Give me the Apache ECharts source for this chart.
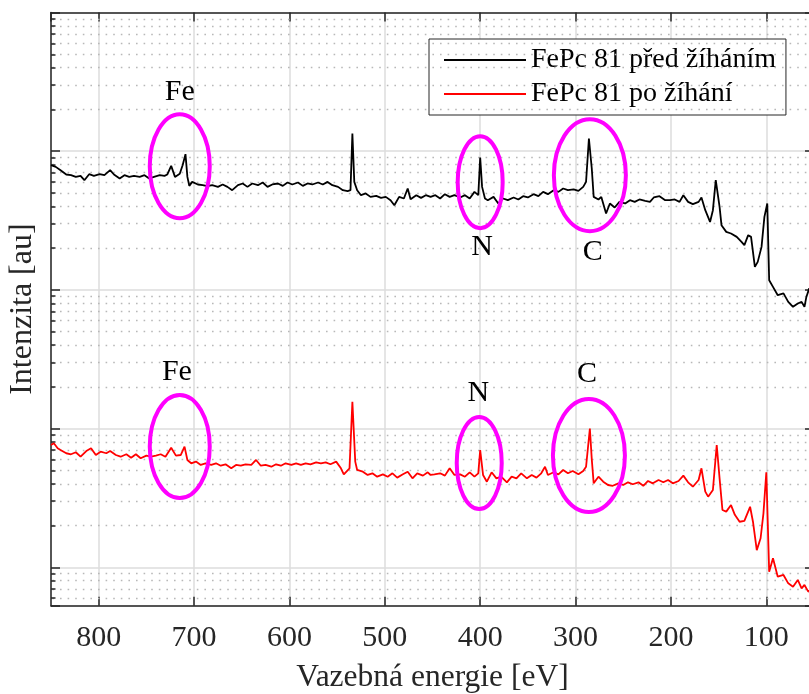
<!DOCTYPE html>
<html><head><meta charset="utf-8">
<script src="https://cdn.jsdelivr.net/npm/echarts@6/dist/echarts.min.js"></script>
<style>html,body{margin:0;padding:0;background:#fff}#c{width:809px;height:694px}</style>
</head><body><div id="c"></div>
<script>
// ---------- data ----------
const seriesNames = ['FePc 81 před žíháním', 'FePc 81 po žíhání'];

const blackEnergy = [
  850,845,840,834,829,824,819,815,810,805,
  799,794,788,784,778,773,768,763,757,752,
  747,742,736,731,728,724,720,715,712,709,
  707,705,702,696,691,686,681,675,670,665,
  660,654,649,644,639,633,628,623,618,612,
  607,602,597,591,586,581,576,570,565,560,
  555,549,544,539,536,534,532,529,525,520,
  515,509,504,499,494,490,485,480,476,473,
  467,462,457,452,447,442,437,432,427,421,
  416,411,406,402,400,398,395,392,386,381,
  376,371,365,360,355,350,344,339,334,329,
  323,318,313,308,302,297,292,289,286,283,
  281,276,273,268,264,259,254,248,243,238,
  233,227,222,218,212,206,201,196,191,187,
  182,177,171,168,164,159,156,153,149,147,
  142,137,131,126,123,119,116,112,109,105,
  102,99,97,93,88,82,77,72,67,63,
  60,58,55,50
];
const blackCounts = [
  7927,7708,7296,6793,6715,6527,6637,6180,6827,6637,
  6827,6715,7296,6793,6357,6715,6527,6637,6527,6715,
  6357,6527,6715,6637,6793,7835,6527,6880,7927,9514,
  6527,5622,6008,5754,5688,5594,5688,5530,5754,5530,
  5235,5688,5850,5530,5850,5688,5948,5530,5754,5850,
  5622,5948,5754,5948,5622,5850,5754,5948,5754,6008,
  5688,5530,5235,5149,5235,13414,6008,5235,4818,4957,
  4684,4763,4607,4684,4434,4081,4684,4561,5385,4509,
  4818,4607,4818,4684,4818,4561,4899,4684,4818,4637,
  4818,4561,5089,4818,9006,5530,4561,4434,4684,4198,
  4561,4434,4637,4486,4739,4637,4899,4739,5089,4899,
  5235,5089,5385,5235,5297,5174,5530,6008,12347,7500,
  4684,4486,4684,3556,4198,3927,4311,4198,4434,4311,
  4486,4384,4311,4637,4739,4434,4434,4486,4311,4818,
  4311,4150,4311,4637,3755,3090,3755,6180,3967,2927,
  2620,2551,2411,2220,2101,2480,2411,1465,1592,2042,
  3360,4198,1174,1052,916,943,819,755,798,819,
  755,890,1025,916
];

const redEnergy = [
  850,847,843,840,834,829,824,819,813,808,
  803,798,792,788,782,777,771,766,761,756,
  750,745,740,735,730,724,719,714,710,707,
  703,698,693,688,682,677,672,667,661,656,
  651,646,640,635,630,625,619,614,609,604,
  598,593,588,583,578,572,567,562,557,551,
  546,543,537,534,531,529,523,518,513,508,
  502,497,492,487,481,476,471,466,460,455,
  452,448,442,437,432,427,421,416,411,406,
  402,400,397,393,388,383,378,372,367,362,
  357,351,346,341,336,332,329,323,318,313,
  308,303,297,292,289,285,283,281,276,271,
  266,261,255,250,245,240,234,229,224,219,
  213,208,203,198,192,187,182,177,171,168,
  164,161,156,152,149,146,142,137,133,128,
  123,117,114,110,106,103,100,97,93,88,
  82,77,72,67,63,60,56,50
];
const redCounts = [
  76.2,78.4,72.1,70.1,66.4,65.3,67.5,62.7,68.9,72.1,
  64.5,68.2,66.4,68.9,64.5,62.7,65.3,61.7,65.3,61.1,
  63.8,62.7,63.8,65.3,62.7,72.8,63.8,64.5,74.1,59.4,
  56.2,57.8,54.7,56.2,54.7,56.2,54.0,55.3,51.7,54.7,
  54.0,55.3,54.7,59.4,54.0,54.7,53.1,55.3,54.0,56.2,
  54.7,56.2,54.7,56.2,55.3,57.1,56.2,57.1,55.3,57.8,
  51.7,46.8,51.7,156,57.8,50.3,48.9,46.3,47.6,45.0,
  46.8,45.0,47.6,44.3,46.8,48.9,43.8,47.6,45.8,48.4,
  46.3,46.8,47.6,45.8,51.7,46.3,46.8,45.0,48.4,45.0,
  47.6,70.1,46.3,41.4,48.4,43.8,45.0,41.0,45.0,43.8,
  47.6,43.8,46.3,44.3,47.6,53.1,46.3,48.4,46.8,50.3,
  47.6,49.5,46.8,49.5,53.1,100.2,60.0,40.3,45.0,41.4,
  39.2,38.7,40.3,39.2,41.0,39.7,41.0,38.7,41.9,40.3,
  42.6,41.0,42.6,40.3,41.9,45.8,41.0,38.1,42.6,51.7,
  35.1,32.3,36.1,76.2,43.8,25.9,25.2,28.1,23.9,21.3,
  21.6,27.3,21.3,13.3,16.2,24.5,48.4,9.3,11.6,8.56,
  8.80,7.66,7.24,8.10,7.05,7.46,6.67,7.1
];

// axis ranges
const xMin = 50, xMax = 850;
const yMin = 5.285, yMax = 100000;
const minorMantissas = [2,3,4,5,6,7,8,9];
const minorDecades = [1,10,100,1000,10000];

// annotations (element, location in data units)
const annotText = ['Fe','N','C','Fe','N','C'];
const annotTextEnergy = [715, 398, 282, 718, 402, 288];
const annotTextValue  = [26630, 2032, 1869, 256, 180.6, 247.6];
const ringEnergy = [715, 400, 285, 715, 401, 286];
const ringValue  = [7796, 5978, 6715, 74.3, 56.5, 64];

// ---------- chart ----------
const FONT = '"Liberation Serif", "Times New Roman", serif';
const AX = '#262626';
const ringSize = [[30,52],[22.5,46],[36,56],[30,51.5],[22.5,46],[36,56.5]];

const minorVals = [];
minorDecades.forEach(d => minorMantissas.forEach(m => {
  const v = m * d;
  if (v > yMin && v < yMax) minorVals.push(v);
}));

const chart = echarts.init(document.getElementById('c'), null, {renderer:'canvas'});

const axisLineStyle = {color: AX, width: 1.5};
const option = {
  animation: false,
  backgroundColor: '#ffffff',
  textStyle: {fontFamily: FONT},
  grid: {left: 51, right: -5, top: 12.5, bottom: 88.3, containLabel: false, outerBoundsMode: 'none'},
  legend: {
    data: seriesNames.map(n => ({name: n, icon: 'rect'})),
    orient: 'vertical', left: 429, top: 39,
    padding: [6, 10, 6, 15], itemGap: 4, itemWidth: 82, itemHeight: 2,
    backgroundColor: '#ffffff', borderColor: AX, borderWidth: 1,
    selectedMode: false,
    textStyle: {fontFamily: FONT, fontSize: 28, lineHeight: 30, color: '#000'}
  },
  xAxis: [{
    type: 'value', min: xMin, max: xMax, inverse: true, splitNumber: 8,
    position: 'bottom',
    axisLine: {show: true, onZero: false, lineStyle: axisLineStyle},
    axisTick: {show: true, inside: true, length: 9, lineStyle: axisLineStyle},
    axisLabel: {show: true, showMinLabel: false, showMaxLabel: false, margin: 17,
      color: AX, fontFamily: FONT, fontSize: 30, lineHeight: 30},
    splitLine: {show: true, lineStyle: {color: '#dcdcdc', width: 1.5}},
    name: 'Vazebná energie [eV]', nameLocation: 'middle', nameGap: 56,
    nameTextStyle: {color: AX, fontFamily: FONT, fontSize: 31.5, lineHeight: 31.5}
  }, {
    type: 'value', min: xMin, max: xMax, inverse: true, splitNumber: 8,
    position: 'top',
    axisLine: {show: true, onZero: false, lineStyle: axisLineStyle},
    axisTick: {show: true, inside: true, length: 9, lineStyle: axisLineStyle},
    axisLabel: {show: false}, splitLine: {show: false}
  }],
  yAxis: [{
    type: 'log', logBase: 10, min: yMin, max: yMax,
    axisLine: {show: true, onZero: false, lineStyle: axisLineStyle},
    axisTick: {show: true, inside: true, length: 9, lineStyle: axisLineStyle},
    axisLabel: {show: false},
    minorTick: {show: false}, minorSplitLine: {show: false},
    splitLine: {show: true, lineStyle: {color: '#dcdcdc', width: 1.5}},
    name: 'Intenzita [au]', nameLocation: 'middle', nameGap: 12.5,
    nameTextStyle: {color: AX, fontFamily: FONT, fontSize: 32, lineHeight: 32}
  }, {
    type: 'log', logBase: 10, min: yMin, max: yMax, position: 'right',
    axisLine: {show: true, onZero: false, lineStyle: axisLineStyle},
    axisTick: {show: true, inside: true, length: 9, lineStyle: axisLineStyle},
    axisLabel: {show: false}, splitLine: {show: false}, minorTick: {show: false}
  }],
  series: [
    {
      name: seriesNames[0], type: 'line', xAxisIndex: 0, yAxisIndex: 0,
      data: blackEnergy.map((e, i) => [e, blackCounts[i]]),
      symbol: 'none', showSymbol: false, z: 5,
      lineStyle: {color: '#000000', width: 1.8}, itemStyle: {color: '#000000'},
      emphasis: {disabled: true}
    },
    {
      name: seriesNames[1], type: 'line', xAxisIndex: 0, yAxisIndex: 0,
      data: redEnergy.map((e, i) => [e, redCounts[i]]),
      symbol: 'none', showSymbol: false, z: 5,
      lineStyle: {color: '#ff0000', width: 1.8}, itemStyle: {color: '#ff0000'},
      emphasis: {disabled: true}
    },
    {
      name: 'minorGrid', type: 'line', data: [], z: 1, silent: true,
      markLine: {
        silent: true, symbol: ['none', 'none'], animation: false,
        label: {show: false}, emphasis: {disabled: true},
        lineStyle: {color: '#b8b8b8', type: [1.6, 6], width: 1.4},
        data: minorVals.map(v => ({yAxis: v}))
      }
    },
    {
      name: 'minorTicks', type: 'line', data: [], z: 6, silent: true,
      markLine: {
        silent: true, symbol: ['none', 'none'], animation: false,
        label: {show: false}, emphasis: {disabled: true},
        lineStyle: {color: AX, type: 'solid', width: 1.5},
        data: minorVals.map(v => [{coord: [xMax, v]}, {coord: [xMax - 4.7, v]}])
      }
    }
  ]
};
chart.setOption(option);

const elems = [];
ringEnergy.forEach((e, i) => {
  const p = chart.convertToPixel({xAxisIndex: 0, yAxisIndex: 0}, [e, ringValue[i]]);
  elems.push({
    type: 'ellipse', silent: true, z: 20,
    shape: {cx: p[0], cy: p[1], rx: ringSize[i][0], ry: ringSize[i][1]},
    style: {fill: 'none', stroke: '#ff00ff', lineWidth: 4}
  });
});
annotTextEnergy.forEach((e, i) => {
  const p = chart.convertToPixel({xAxisIndex: 0, yAxisIndex: 0}, [e, annotTextValue[i]]);
  elems.push({
    type: 'text', silent: true, z: 20, x: p[0], y: p[1],
    style: {text: annotText[i], fill: '#000', font: '30px "Liberation Serif"',
      align: 'center', verticalAlign: 'middle', textAlign: 'center', textVerticalAlign: 'middle'}
  });
});
chart.setOption({graphic: {elements: elems}});
</script>
</body></html>
